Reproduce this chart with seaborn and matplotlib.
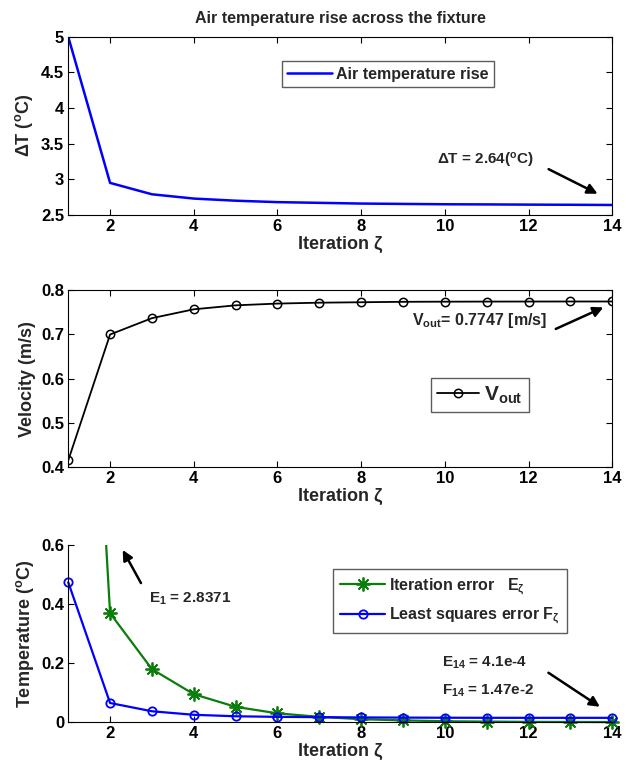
import numpy as np
import pandas as pd
import matplotlib
matplotlib.use("Agg")
import matplotlib.pyplot as plt
import matplotlib.transforms as mtransforms
import seaborn as sns

# --- Data ---
iterations = list(range(1, 15))
delta_t = [5.0, 2.95, 2.79, 2.73, 2.70, 2.68, 2.67, 2.66, 2.655, 2.65, 2.648, 2.645, 2.643, 2.64]
v_out = [0.415, 0.700, 0.737, 0.757, 0.766, 0.770, 0.772, 0.773, 0.774, 0.7743, 0.7745, 0.7746, 0.7747, 0.7747]
iter_err = [2.8371, 0.37, 0.18, 0.095, 0.052, 0.030, 0.018, 0.010, 0.006, 0.003, 0.002, 0.001, 0.0007, 0.00041]
lsq_err = [0.475, 0.065, 0.037, 0.025, 0.020, 0.018, 0.017, 0.016, 0.0155, 0.015, 0.0148, 0.0147, 0.0147, 0.0147]
x_ticks = [2, 4, 6, 8, 10, 12, 14]

df = pd.DataFrame({"iter": iterations, "dT": delta_t, "v": v_out,
                   "E": iter_err, "F": lsq_err})

# --- Style ---
sns.set_theme(style="white")
plt.rcParams["font.family"] = ["Liberation Sans", "DejaVu Sans"]
plt.rcParams["mathtext.fontset"] = "custom"
plt.rcParams["mathtext.rm"] = "Liberation Sans:bold"
plt.rcParams["mathtext.it"] = "Liberation Sans:bold"
plt.rcParams["mathtext.bf"] = "Liberation Sans:bold"

fig = plt.figure(figsize=(6.26, 7.65), dpi=100)
ax1 = fig.add_axes([0.109, 0.719, 0.869, 0.233])
ax2 = fig.add_axes([0.109, 0.3895, 0.869, 0.231])
ax3 = fig.add_axes([0.109, 0.056, 0.869, 0.231])

BLUE = "#0000FF"
GREEN = "#0A7D0A"
tick_kw = dict(direction="in", length=4, width=0.8, labelsize=12, colors="black")
lab_kw = dict(fontsize=13, fontweight="bold")
ann_kw = dict(fontsize=11, fontweight="bold")
arrow_kw = dict(arrowstyle="-|>", color="black", lw=1.8, mutation_scale=15)

def style_axis(ax, full_box=True):
    ax.set_xlim(1, 14)
    ax.set_xticks(x_ticks)
    ax.tick_params(axis="both", which="both", top=full_box, right=full_box,
                   bottom=True, left=True, pad=3, **tick_kw)
    for lbl in ax.get_xticklabels() + ax.get_yticklabels():
        lbl.set_fontweight("bold")
    for side, sp in ax.spines.items():
        sp.set_color("black")
        sp.set_linewidth(0.8)
    if not full_box:
        ax.spines["top"].set_visible(False)
        ax.spines["right"].set_visible(False)
    ax.set_xlabel("Iteration ζ", labelpad=1, **lab_kw)

def boxed_legend(ax, center, **kw):
    leg = ax.legend(loc="center", bbox_to_anchor=center, frameon=True, fancybox=False,
                    edgecolor="#333333", prop={"weight": "bold", "size": kw.pop("size", 11.5)},
                    handletextpad=0.25, **kw)
    leg.get_frame().set_linewidth(1.0)
    return leg

# --- Panel 1: air temperature rise ---
sns.lineplot(data=df, x="iter", y="dT", ax=ax1, color=BLUE, linewidth=1.8,
             label="Air temperature rise")
ax1.set_ylim(2.5, 5)
ax1.set_yticks([2.5, 3, 3.5, 4, 4.5, 5])
ax1.set_yticklabels(["2.5", "3", "3.5", "4", "4.5", "5"])
style_axis(ax1)
ax1.set_ylabel("ΔT ($^{o}$C)", labelpad=4, **lab_kw)
ax1.set_title("Air temperature rise across the fixture", fontsize=11.5,
              fontweight="bold", pad=10)
boxed_legend(ax1, (0.588, 0.79), handlelength=2.8, borderpad=0.35)
ax1.annotate("", xy=(13.71, 2.78), xytext=(12.42, 3.16), arrowprops=arrow_kw)
ax1.text(10.96, 3.27, "ΔT = 2.64($^{o}$C)", ha="center", va="center", **ann_kw)

# --- Panel 2: outlet velocity ---
sns.lineplot(data=df, x="iter", y="v", ax=ax2, color="black", linewidth=1.3,
             marker="o", markersize=6, markerfacecolor="none", markeredgecolor="black",
             markeredgewidth=1.1, label="$\\mathbf{V_{out}}$")
ax2.set_ylim(0.4, 0.8)
ax2.set_yticks([0.4, 0.5, 0.6, 0.7, 0.8])
style_axis(ax2)
ax2.set_ylabel("Velocity (m/s)", labelpad=4, **lab_kw)
boxed_legend(ax2, (0.757, 0.407), size=15, handlelength=2.0, borderpad=0.3)
ax2.annotate("", xy=(13.85, 0.764), xytext=(12.59, 0.710), arrowprops=arrow_kw)
ax2.text(10.82, 0.732, "$\\mathbf{V_{out}}$= 0.7747 [m/s]", ha="center", va="center",
         fontsize=11.5, fontweight="bold")

# --- Panel 3: errors ---
sns.lineplot(data=df, x="iter", y="E", ax=ax3, color=GREEN, linewidth=1.6,
             marker=(8, 2, 0), markersize=10, markeredgecolor=GREEN, markeredgewidth=1.3,
             label="Iteration error   $E_{\\zeta}$")
sns.lineplot(data=df, x="iter", y="F", ax=ax3, color=BLUE, linewidth=1.6,
             marker="o", markersize=6, markerfacecolor="none", markeredgecolor=BLUE,
             markeredgewidth=1.3, label="Least squares error $F_{\\zeta}$")
ax3.set_ylim(0, 0.6)
ax3.set_yticks([0, 0.2, 0.4, 0.6])
ax3.set_yticklabels(["0", "0.2", "0.4", "0.6"])
style_axis(ax3, full_box=False)
ax3.set_ylabel("Temperature ($^{o}$C)", labelpad=4, **lab_kw)
# let the curves run a little past x=14 but stay cut at the top of the axes
clip_rect = mtransforms.TransformedBbox(mtransforms.Bbox([[-0.02, -0.05], [1.03, 1.0]]),
                                        ax3.transAxes)
for ln in ax3.lines:
    ln.set_clip_box(clip_rect)
boxed_legend(ax3, (0.702, 0.684), handlelength=2.8, borderpad=0.45, labelspacing=0.55)
ax3.annotate("", xy=(2.27, 0.593), xytext=(2.77, 0.464), arrowprops=arrow_kw)
ax3.text(3.92, 0.42, "$E_1$ = 2.8371", ha="center", va="center", **ann_kw)
ax3.annotate("", xy=(13.76, 0.047), xytext=(12.42, 0.173), arrowprops=arrow_kw)
ax3.text(9.94, 0.203, "$E_{14}$ = 4.1e-4", ha="left", va="center", **ann_kw)
ax3.text(9.94, 0.108, "$F_{14}$ = 1.47e-2", ha="left", va="center", **ann_kw)

fig.savefig("out.png", dpi=100)
